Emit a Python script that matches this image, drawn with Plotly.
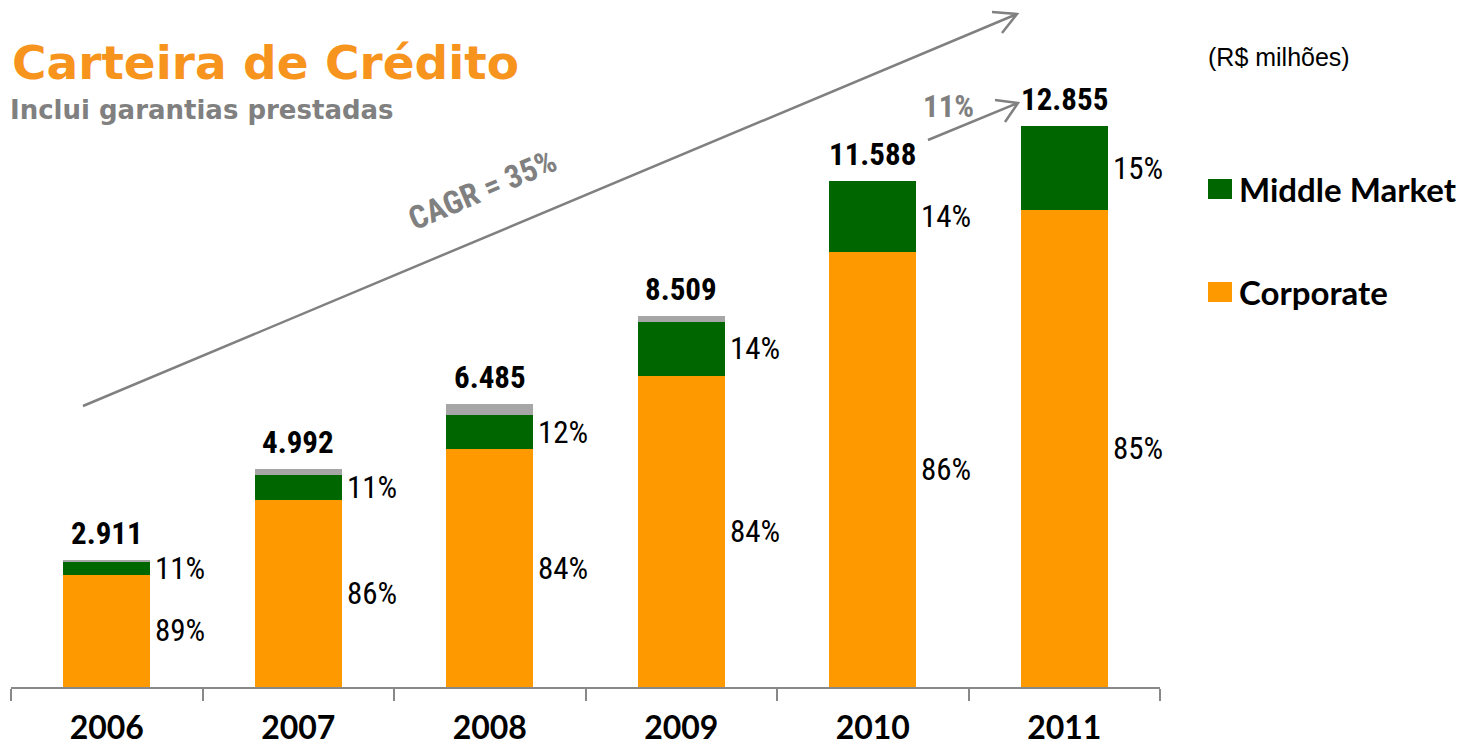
import plotly.graph_objects as go

# ---------------- data ----------------
years = ["2006", "2007", "2008", "2009", "2010", "2011"]
corporate = [2570, 4290, 5450, 7130, 9966, 10927]
middle_market = [290, 560, 775, 1230, 1622, 1928]
other = [51, 142, 260, 149, 0, 0]
totals = [2911, 4992, 6485, 8509, 11588, 12855]
total_labels = ["2.911", "4.992", "6.485", "8.509", "11.588", "12.855"]
corp_pct = ["89%", "86%", "84%", "84%", "86%", "85%"]
mm_pct = ["11%", "11%", "12%", "14%", "14%", "15%"]

# ---------------- style ----------------
OFF = 8  # page body margin
W, H = 1466 - 2 * OFF, 754 - 2 * OFF
ML, MT = 11 - OFF, 76 - OFF
MR = W - (1160 - OFF)
MB = H - (687 - OFF)
ORANGE = "#FF9900"
GREEN = "#006600"
GREYSEG = "#A6A6A6"
GREY = "#808080"
NARROW = "Liberation Sans Narrow, Arial Narrow, Roboto Condensed, Liberation Sans, sans-serif"
CAL = "Lato, Carlito, Calibri, sans-serif"
BAR_W = 0.454

pw = W - ML - MR
ph = H - MT - MB


def px(xp):
    return (xp - OFF - ML) / pw


def py(yp):
    return (H - MB - (yp - OFF)) / ph


fig = go.Figure()
fig.add_trace(go.Bar(x=years, y=corporate, name="Corporate", marker=dict(color=ORANGE, line=dict(width=0)), width=BAR_W))
fig.add_trace(go.Bar(x=years, y=middle_market, name="Middle Market", marker=dict(color=GREEN, line=dict(width=0)), width=BAR_W))
fig.add_trace(go.Bar(x=years, y=other, name="Outros", marker=dict(color=GREYSEG, line=dict(width=0)), width=BAR_W, showlegend=False))

annotations = []
for i, yr in enumerate(years):
    annotations.append(dict(x=i, y=totals[i], xref="x", yref="y", text=f"<b>{total_labels[i]}</b>",
                            showarrow=False, yanchor="bottom", xanchor="center", yshift=6,
                            font=dict(family=NARROW, size=31, color="black")))
    annotations.append(dict(x=i + BAR_W / 2, y=corporate[i] / 2, xref="x", yref="y", text=corp_pct[i],
                            showarrow=False, xanchor="left", yanchor="middle", xshift=3,
                            font=dict(family=NARROW, size=31, color="black")))
    annotations.append(dict(x=i + BAR_W / 2, y=corporate[i] + middle_market[i] / 2, xref="x", yref="y",
                            text=mm_pct[i], showarrow=False, xanchor="left", yanchor="middle", xshift=3,
                            font=dict(family=NARROW, size=31, color="black")))

annotations.append(dict(x=px(10), y=py(62), xref="paper", yref="paper", text="<b>Carteira de Crédito</b>",
                        showarrow=False, xanchor="left", yanchor="middle",
                        font=dict(family="DejaVu Sans", size=47, color="#F7941D")))
annotations.append(dict(x=px(8), y=py(110), xref="paper", yref="paper", text="<b>Inclui garantias prestadas</b>",
                        showarrow=False, xanchor="left", yanchor="middle",
                        font=dict(family="DejaVu Sans", size=26, color=GREY)))
annotations.append(dict(x=px(1206), y=py(57), xref="paper", yref="paper", text="(R$ milhões)",
                        showarrow=False, xanchor="left", yanchor="middle",
                        font=dict(family="Liberation Sans", size=25, color="black")))
annotations.append(dict(x=px(482), y=py(190), xref="paper", yref="paper", text="<b>CAGR = 35%</b>",
                        showarrow=False, textangle=-23, xanchor="center", yanchor="middle",
                        font=dict(family=NARROW, size=32, color=GREY)))
annotations.append(dict(x=px(948), y=py(106), xref="paper", yref="paper", text="<b>11%</b>",
                        showarrow=False, xanchor="center", yanchor="middle",
                        font=dict(family=NARROW, size=31, color=GREY)))
annotations.append(dict(x=px(1237), y=py(189), xref="paper", yref="paper", text="<b>Middle Market</b>",
                        showarrow=False, xanchor="left", yanchor="middle",
                        font=dict(family=CAL, size=33, color="black")))
annotations.append(dict(x=px(1237), y=py(292), xref="paper", yref="paper", text="<b>Corporate</b>",
                        showarrow=False, xanchor="left", yanchor="middle",
                        font=dict(family=CAL, size=33, color="black")))


def arrow_path(p0, p1, b1, b2):
    return (f"M{px(p0[0])},{py(p0[1])} L{px(p1[0])},{py(p1[1])} "
            f"M{px(b1[0])},{py(b1[1])} L{px(p1[0])},{py(p1[1])} L{px(b2[0])},{py(b2[1])}")


shapes = [
    dict(type="path", xref="paper", yref="paper",
         path=arrow_path((83, 406), (1017, 14), (992, 12), (1002, 33)),
         line=dict(color=GREY, width=2.5)),
    dict(type="path", xref="paper", yref="paper",
         path=arrow_path((928, 140), (1018, 103), (995, 100), (1005, 122)),
         line=dict(color=GREY, width=2.5)),
    dict(type="rect", xref="paper", yref="paper", x0=px(1208), x1=px(1232), y0=py(179), y1=py(199),
         fillcolor=GREEN, line=dict(width=0)),
    dict(type="rect", xref="paper", yref="paper", x0=px(1208), x1=px(1232), y0=py(282), y1=py(302),
         fillcolor=ORANGE, line=dict(width=0)),
]

fig.update_layout(
    barmode="stack",
    width=W, height=H,
    margin=dict(l=ML, r=MR, t=MT, b=MB, autoexpand=False),
    paper_bgcolor="white", plot_bgcolor="white",
    showlegend=False,
    annotations=annotations,
    shapes=shapes,
    xaxis=dict(type="category", range=[-0.5, 5.5], tickson="boundaries", ticks="outside", ticklen=12,
               tickcolor="#888888", tickwidth=2, showline=True, linecolor="#888888", linewidth=2,
               showgrid=False, zeroline=False, ticklabelstandoff=12, automargin=False,
               tickfont=dict(family=CAL, size=32, color="black", weight="bold")),
    yaxis=dict(range=[0, 14000], visible=False, showgrid=False, zeroline=False, automargin=False),
)

fig.write_html("out.html")
